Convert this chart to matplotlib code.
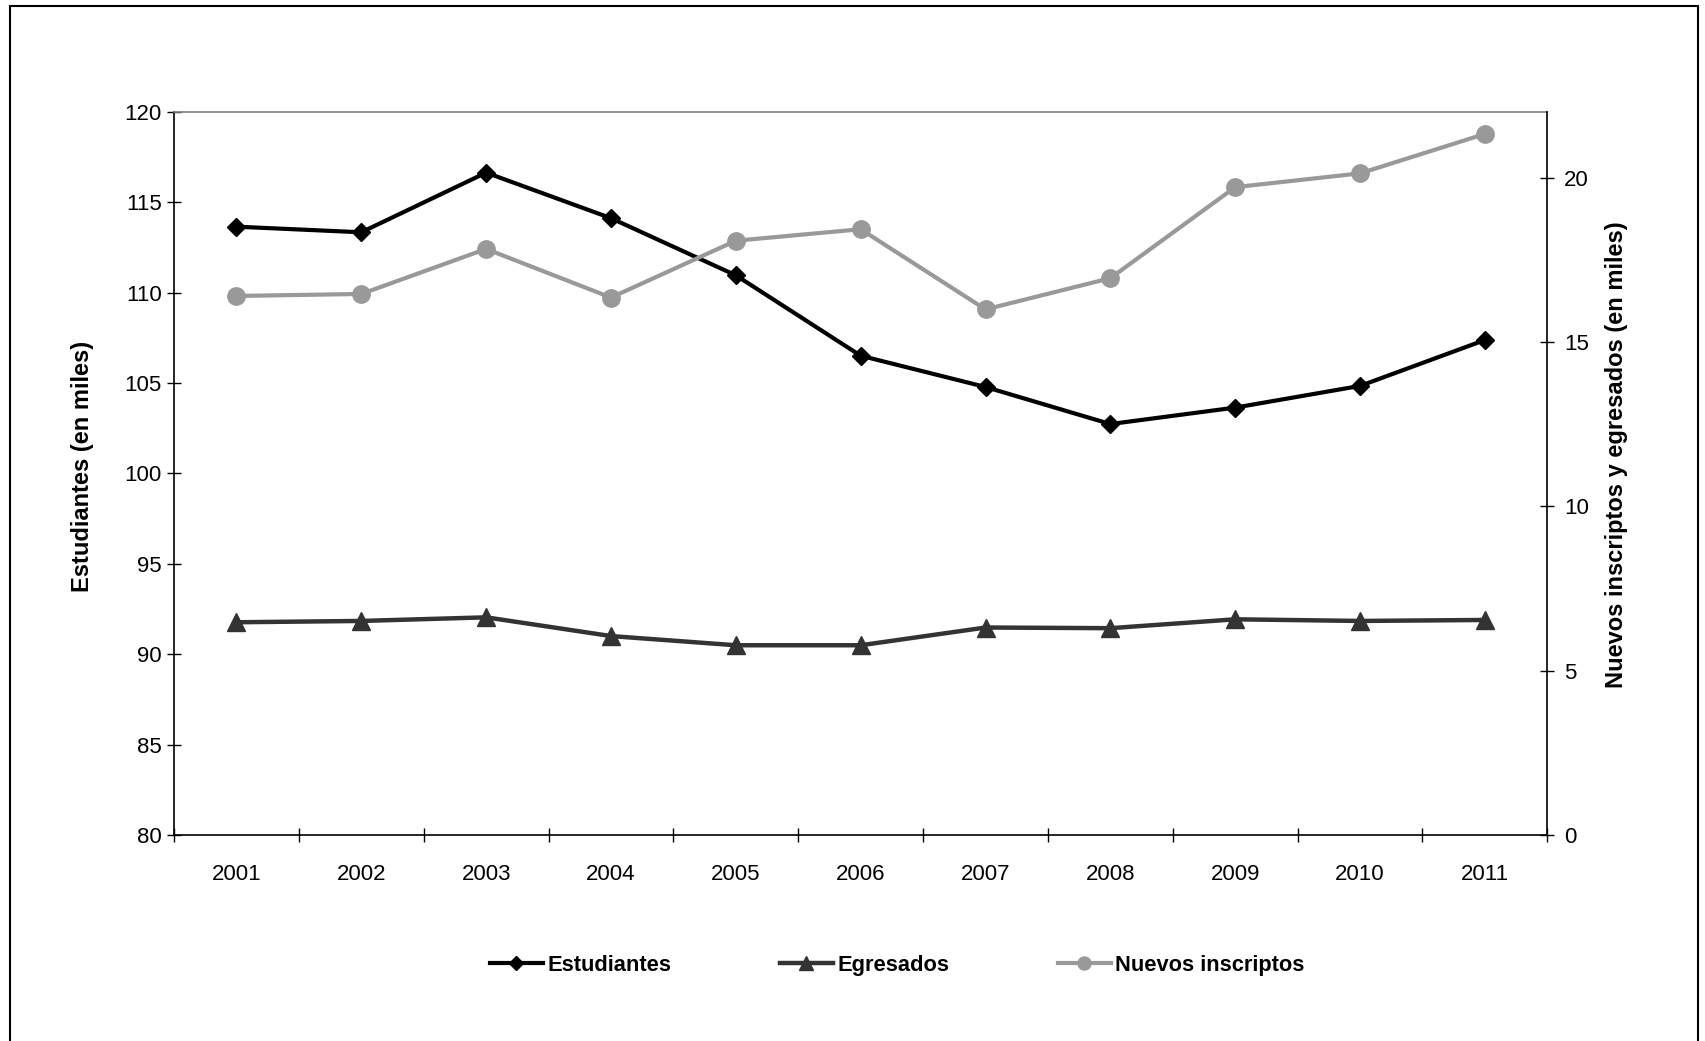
import matplotlib
matplotlib.use("Agg")
import matplotlib.pyplot as plt
from matplotlib import font_manager as fm
from matplotlib.patches import Rectangle
import numpy as np

# datos (en miles)
anios = ["2001", "2002", "2003", "2004", "2005", "2006",
         "2007", "2008", "2009", "2010", "2011"]
estudiantes = [113.65, 113.34, 116.64, 114.12, 110.96, 106.51,
               104.78, 102.73, 103.64, 104.84, 107.38]
egresados = [6.47, 6.51, 6.62, 6.05, 5.77, 5.77,
             6.31, 6.29, 6.56, 6.51, 6.54]
nuevos = [16.40, 16.46, 17.83, 16.35, 18.08, 18.43,
          15.99, 16.94, 19.71, 20.13, 21.33]

nombres = {f.name for f in fm.fontManager.ttflist}
if "Liberation Sans Narrow" in nombres:
    narrow = "Liberation Sans Narrow"
    k = 1.0
else:
    narrow = "Liberation Sans"
    k = 0.85

plt.rcParams["font.family"] = ["Liberation Sans", "DejaVu Sans"]

fig = plt.figure(figsize=(17.06, 10.41), dpi=100)
ax = fig.add_axes([0.102, 0.198, 0.805, 0.6945])
ax2 = ax.twinx()

x = np.arange(len(anios))

l1, = ax.plot(x, estudiantes, color="black", lw=3, marker="D", ms=9,
              label="Estudiantes")
l2, = ax2.plot(x, egresados, color="#333333", lw=3.2, marker="^", ms=13,
               label="Egresados")
l3, = ax2.plot(x, nuevos, color="#999999", lw=3, marker="o", ms=12.5,
               label="Nuevos inscriptos")

ax.set_xlim(-0.5, len(anios) - 0.5)
ax.set_ylim(80, 120)
ax.set_yticks(np.arange(80, 121, 5))
ax2.set_ylim(0, 22)
ax2.set_yticks([0, 5, 10, 15, 20])

# ticks del eje x en los limites de categoria, etiquetas al centro
ax.set_xticks(np.arange(-0.5, len(anios), 1.0))
ax.set_xticklabels([])
ax.set_xticks(x, minor=True)
ax.set_xticklabels(anios, minor=True)
ax.tick_params(axis="x", which="major", direction="inout", length=10,
               width=1, color="black")
ax.tick_params(axis="x", which="minor", length=0, pad=21, labelsize=16)
ax.tick_params(axis="y", direction="inout", length=10, width=1,
               labelsize=16, pad=4)
ax2.tick_params(axis="y", direction="inout", length=10, width=1,
                labelsize=16, pad=7)

for s in ["left", "bottom"]:
    ax.spines[s].set_color("black")
    ax.spines[s].set_linewidth(1.2)
ax.spines["right"].set_visible(False)
ax.spines["top"].set_color("#808080")
ax.spines["top"].set_linewidth(1.2)
ax2.spines["right"].set_color("black")
ax2.spines["right"].set_linewidth(1.2)
for s in ["left", "bottom", "top"]:
    ax2.spines[s].set_visible(False)

ax.set_ylabel("Estudiantes (en miles)", fontsize=17, fontweight="bold")
ax.yaxis.label.set_va("center")
ax.yaxis.set_label_coords(-0.0663, 0.51)

ax2.set_ylabel("Nuevos inscriptos y egresados (en miles)",
               fontsize=20 * k, fontweight="bold", family=narrow,
               rotation=90)
ax2.yaxis.label.set_va("center")
ax2.yaxis.set_label_coords(1.0502, 0.526)

fig.legend(handles=[l1, l2, l3], loc="center",
           bbox_to_anchor=(0.526, 0.073), ncol=3, frameon=False,
           prop={"family": narrow, "weight": "bold", "size": 18.5 * k},
           handlelength=2.4, handletextpad=0.2, columnspacing=5.0,
           markerscale=0.75)

# marco exterior
fig.add_artist(Rectangle((0.0056, -0.05), 0.9897, 0.9938 + 0.05,
                         transform=fig.transFigure, fill=False,
                         edgecolor="black", lw=1.5))

fig.savefig("out.png", dpi=100)
